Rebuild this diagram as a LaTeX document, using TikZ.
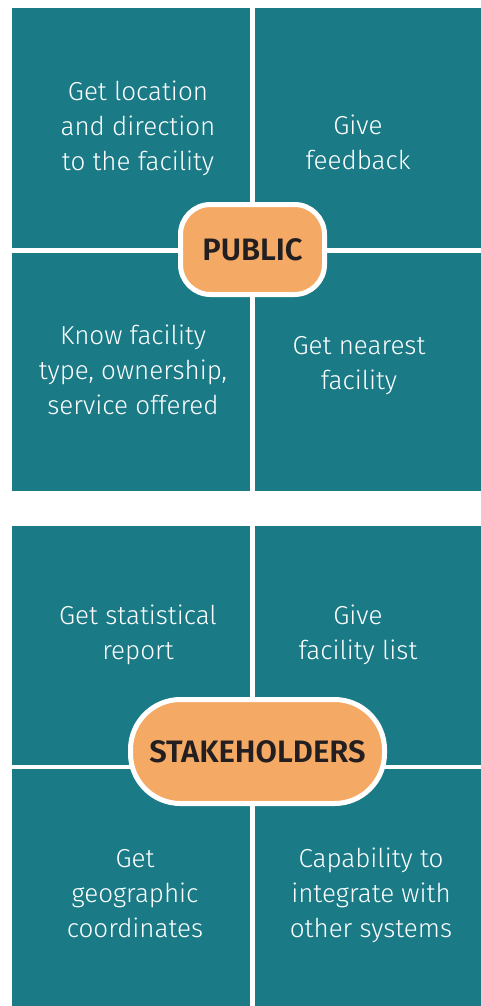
\documentclass[tikz,border=0pt]{standalone}
\usepackage{fontspec}
\setmainfont{Fira Sans Light}
\newfontfamily\badgefont{Fira Sans SemiBold}
\definecolor{teal}{HTML}{1A7B87}
\definecolor{orangebadge}{HTML}{F4A964}
\definecolor{darktext}{HTML}{231F20}
\begin{document}
\begin{tikzpicture}[x=1pt,y=-1pt,
  cell/.style={fill=teal,draw=none},
  celltext/.style={text=white,align=center,font=\fontsize{26}{35}\selectfont,inner sep=0pt},
  badge/.style={fill=orangebadge,draw=white,line width=5pt,inner sep=0pt},
  badgetext/.style={text=darktext,font=\badgefont\fontsize{31}{36}\selectfont,inner sep=0pt}]
\useasboundingbox (0,0) rectangle (481,1006);
% top panel
\fill[cell] (12,8) rectangle (250,248);
\fill[cell] (255,8) rectangle (481,248);
\fill[cell] (12,253) rectangle (250,491);
\fill[cell] (255,253) rectangle (481,491);
% bottom panel
\fill[cell] (12,526) rectangle (250,765);
\fill[cell] (255,526) rectangle (481,765);
\fill[cell] (12,769) rectangle (250,1006);
\fill[cell] (255,769) rectangle (481,1006);
% texts
\node[celltext] (t1) at (138,128) {Get location\\and direction\\to the facility};
\node[celltext] (t2) at (358,142) {Give\\feedback};
\node[celltext] (t3) at (133,370) {Know facility\\type, ownership,\\service offered};
\node[celltext] (t4) at (359,365.5) {Get nearest\\facility};
\node[celltext] (s1) at (138,635) {Get statistical\\report};
\node[celltext] (s2) at (358,635) {Give\\facility list};
\node[celltext] (s3) at (135,894) {Get\\geographic\\coordinates};
\node[celltext] (s4) at (371,895) {Capability to\\integrate with\\other systems};
% badges
\draw[badge,rounded corners=30pt] (180.5,204.5) rectangle (324.5,294.5);
\node[badgetext] (pub) at (252.5,249.5) {PUBLIC};
\draw[badge,rounded corners=50pt] (130.5,699.5) rectangle (384.5,803.5);
\node[badgetext] (stk) at (257.5,751.5) {STAKEHOLDERS};
\end{tikzpicture}
\end{document}
